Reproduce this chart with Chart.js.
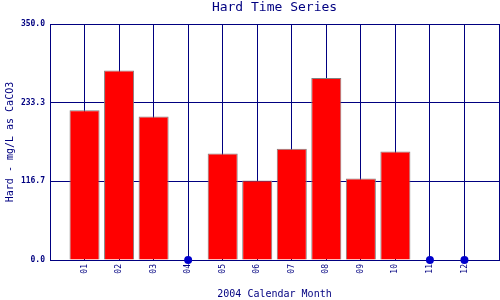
<!DOCTYPE html>
<html>
<head>
<meta charset="utf-8">
<script src="https://cdn.jsdelivr.net/npm/chart.js@4"></script>
<style>
    body { margin: 0; background: #fff; }
    #wrap { width: 500px; height: 300px; }
</style>
</head>
<body>
<div id="wrap"><canvas id="hardChart"></canvas></div>
<script>
// Monthly hardness readings (mg/L as CaCO3), null = no sample
const months = ["01", "02", "03", "04", "05", "06", "07", "08", "09", "10", "11", "12"];
const hardness = [222, 281, 213, null, 158, 118, 165, 270, 121, 161, null, null];
const yTicks = [0, 116.7, 233.3, 350];

const navy = '#000080';
const mono = 'DejaVu Sans Mono';

// pad one empty slot on each side so the months sit one step in from the frame
const labels = [''].concat(months, ['']);
const barData = [null].concat(hardness, [null]);
const missingData = [null].concat(hardness.map(v => v === null ? 0 : null), [null]);

new Chart(document.getElementById('hardChart'), {
    data: {
        labels: labels,
        datasets: [
            {
                type: 'line',
                data: missingData,
                showLine: false,
                pointRadius: 4,
                pointBackgroundColor: '#0000cc',
                pointBorderColor: '#0000cc',
                pointBorderWidth: 0,
                clip: false,
                order: 0
            },
            {
                type: 'bar',
                data: barData,
                backgroundColor: '#ff0000',
                borderColor: '#808080',
                borderWidth: 1,
                barPercentage: 0.87,
                categoryPercentage: 1,
                order: 1
            }
        ]
    },
    options: {
        responsive: true,
        maintainAspectRatio: false,
        animation: false,
        layout: { autoPadding: false, padding: { right: 1, top: 0, left: 0, bottom: 0 } },
        plugins: {
            legend: { display: false },
            tooltip: { enabled: false },
            title: {
                display: true,
                text: 'Hard Time Series',
                color: navy,
                fullSize: false,
                font: { family: mono, size: 13, weight: 'normal' },
                padding: { top: 0, bottom: 8.4 }
            }
        },
        scales: {
            x: {
                type: 'category',
                offset: false,
                grid: { color: navy, lineWidth: 1, drawTicks: false, offset: false },
                border: { color: navy, width: 1 },
                ticks: {
                    color: navy,
                    font: { family: mono, size: 8 },
                    minRotation: 90,
                    maxRotation: 90,
                    padding: 4,
                    autoSkip: false
                },
                title: {
                    display: true,
                    text: '2004 Calendar Month',
                    color: navy,
                    font: { family: mono, size: 10 },
                    padding: 0
                },
                afterFit: scale => {
                    scale.height = 40;
                    scale.paddingLeft = 0;
                    scale.paddingRight = 0;
                }
            },
            y: {
                min: 0,
                max: 350,
                afterBuildTicks: scale => {
                    scale.ticks = yTicks.map(v => ({ value: v }));
                },
                grid: { color: navy, lineWidth: 1, drawTicks: false },
                border: { color: navy, width: 1 },
                ticks: {
                    color: navy,
                    font: { family: mono, size: 8, weight: 'bold' },
                    padding: 5,
                    callback: v => v.toFixed(1)
                },
                title: {
                    display: true,
                    text: 'Hard - mg/L as CaCO3',
                    color: navy,
                    font: { family: mono, size: 10 },
                    padding: { top: 4, bottom: 0 }
                },
                afterFit: scale => { scale.width = 50; }
            }
        }
    }
});
</script>
</body>
</html>
